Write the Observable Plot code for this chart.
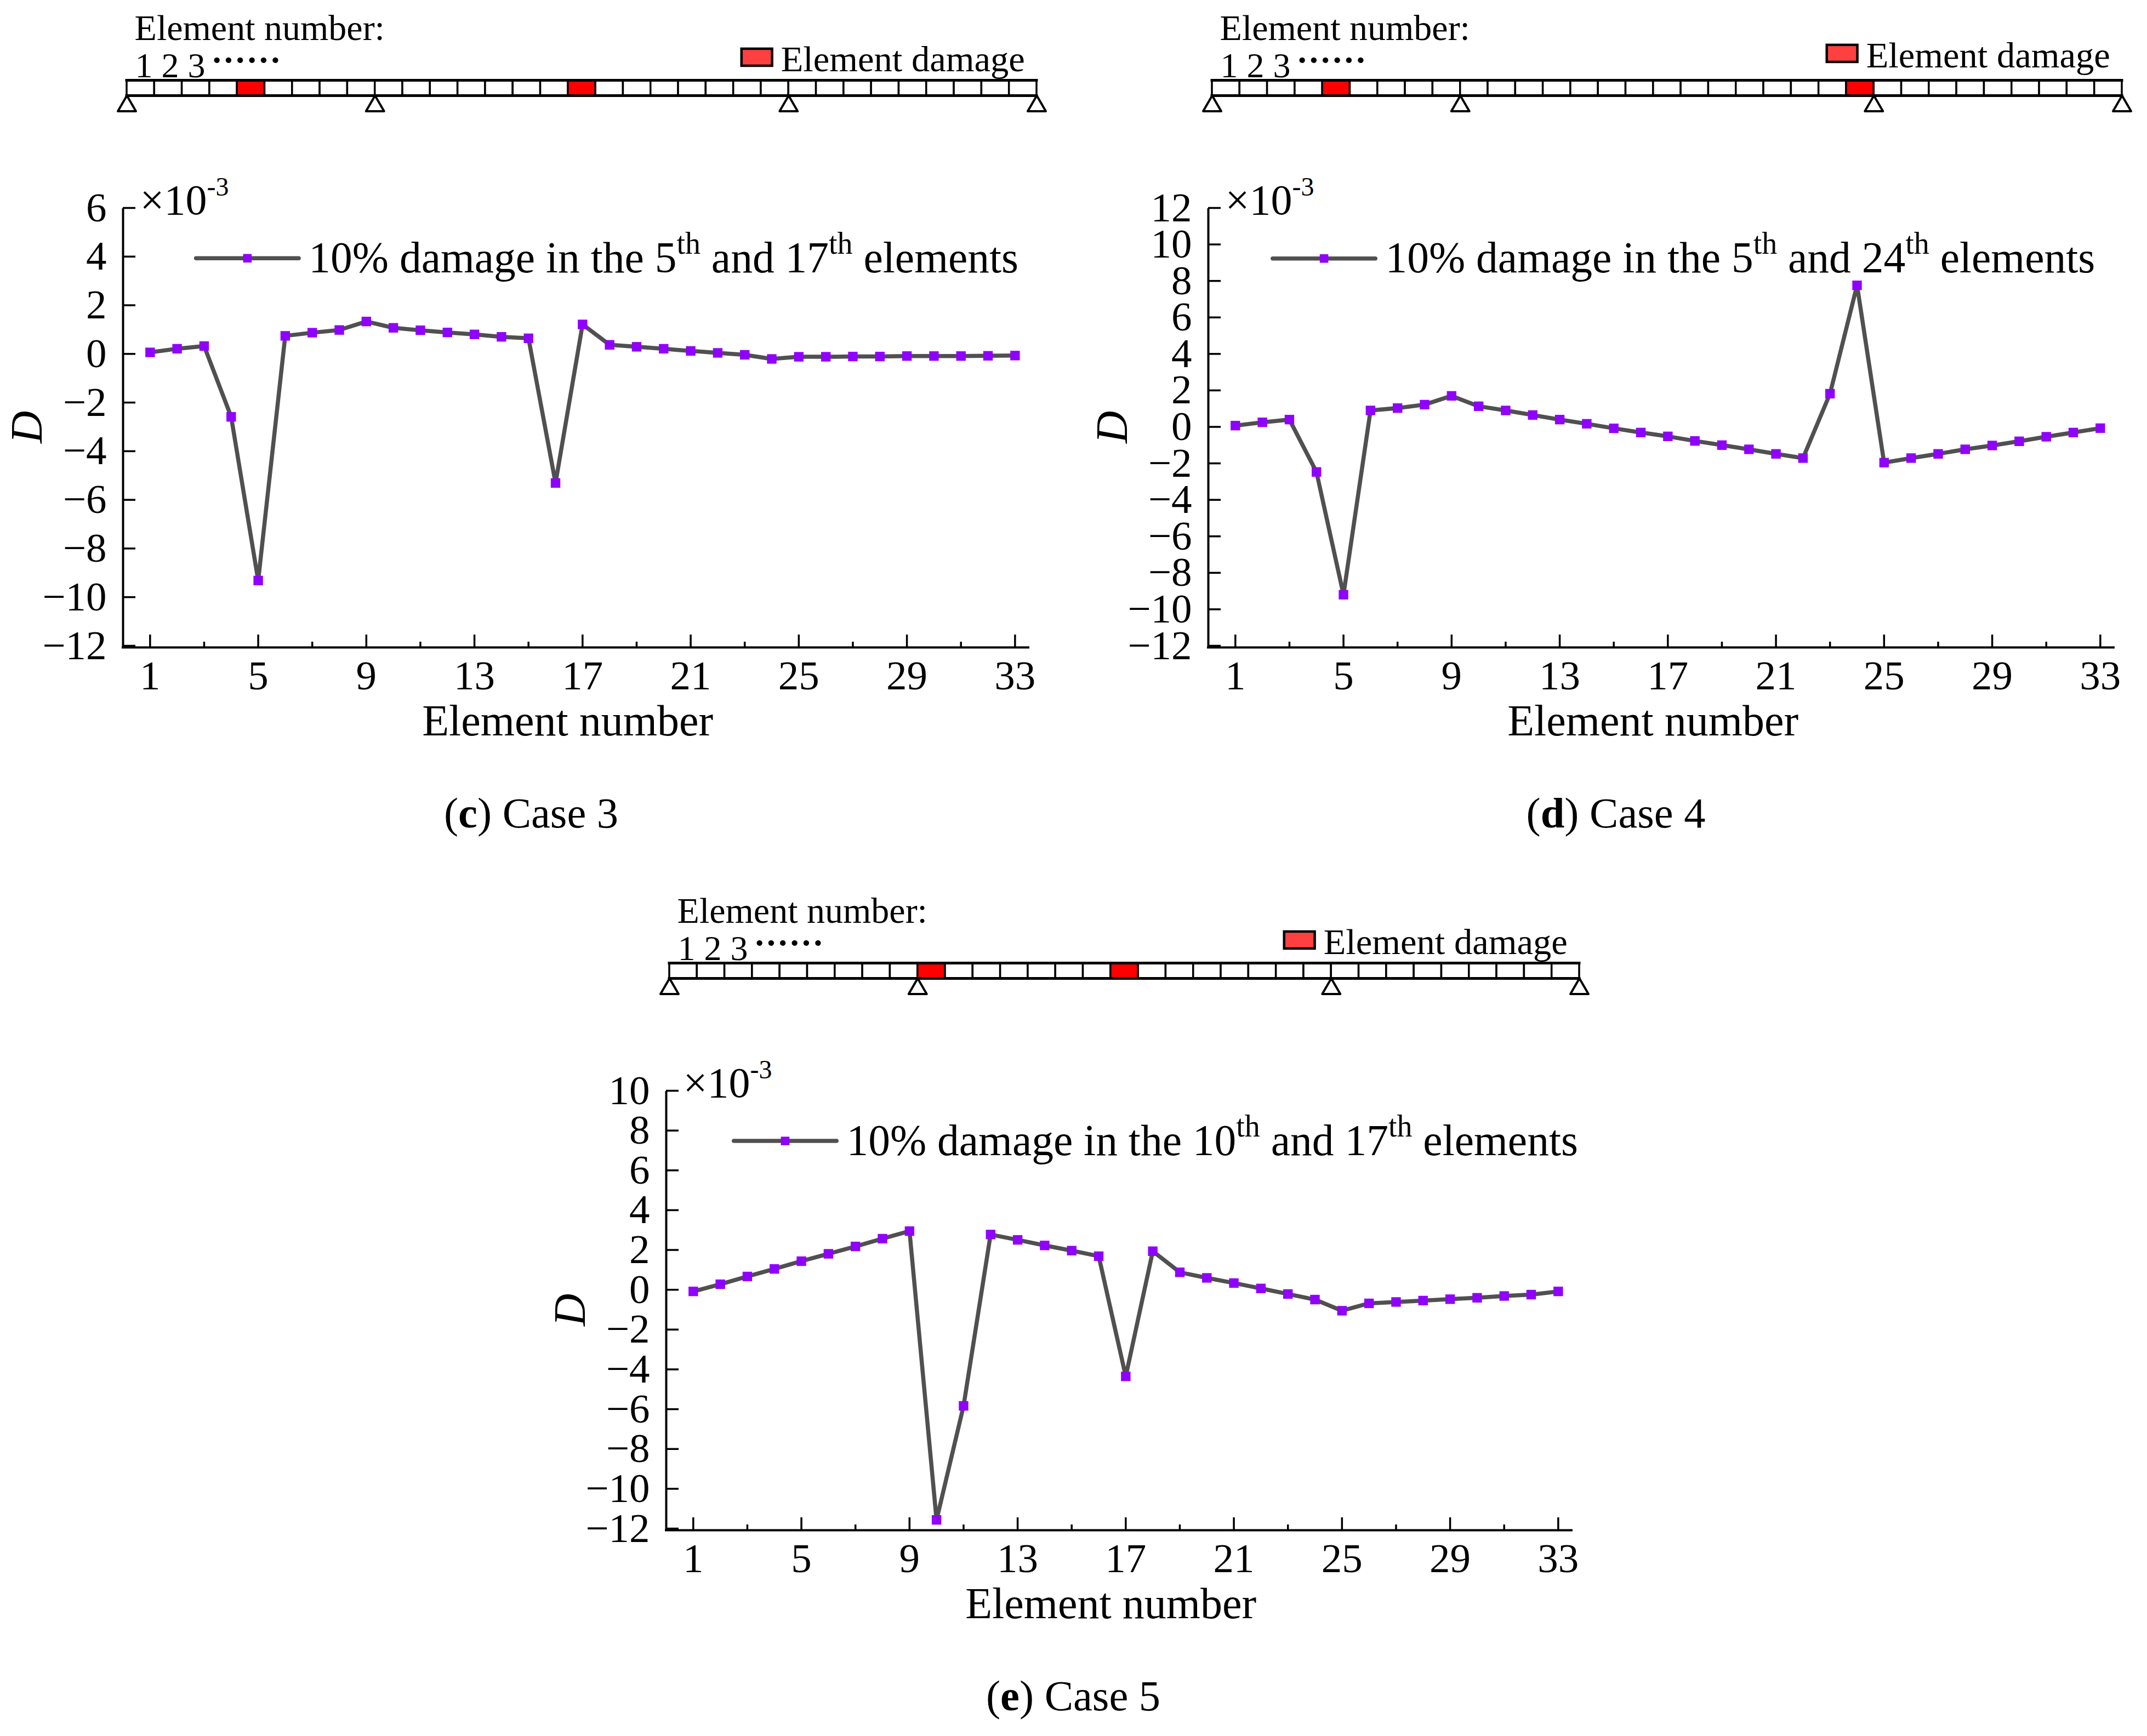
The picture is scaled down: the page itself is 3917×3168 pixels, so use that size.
<!DOCTYPE html>
<html>
<head>
<meta charset="utf-8">
<script src="https://cdn.jsdelivr.net/npm/d3@7"></script>
<script src="https://cdn.jsdelivr.net/npm/@observablehq/plot@0.6"></script>
<style>
html,body{margin:0;padding:0;background:#fff}
#page{position:relative;width:3917px;height:3168px;overflow:hidden;font-family:"Liberation Serif",serif;color:#000}
#page svg{position:absolute;overflow:visible;background:transparent}
.cap{position:absolute;font-size:78.5px;line-height:1;white-space:nowrap}
</style>
</head>
<body>
<div id="page"></div>
<script>
const elements = d3.range(1, 34);
const majorTicks = [1, 5, 9, 13, 17, 21, 25, 29, 33];
const minorTicks = [3, 7, 11, 15, 19, 23, 27, 31];
const supports = [0, 9, 24, 33];

const case3 = [0.13,0.28,0.39,-2.52,-9.25,0.81,0.94,1.05,1.40,1.14,1.04,0.95,0.87,0.77,0.71,-5.24,1.28,0.44,0.36,0.28,0.19,0.11,0.03,-0.14,-0.05,-0.05,-0.04,-0.04,-0.02,-0.02,-0.02,-0.01,0];
const case4 = [0.16,0.34,0.49,-2.38,-9.11,0.99,1.12,1.31,1.79,1.22,0.99,0.74,0.49,0.26,0.01,-0.22,-0.43,-0.68,-0.91,-1.14,-1.39,-1.62,1.91,7.85,-1.87,-1.62,-1.39,-1.14,-0.93,-0.70,-0.45,-0.22,0.02];
const case5 = [0,0.36,0.75,1.13,1.52,1.89,2.26,2.65,3.03,-11.48,-5.75,2.86,2.59,2.31,2.05,1.77,-4.27,2.02,0.96,0.68,0.42,0.15,-0.13,-0.41,-0.97,-0.60,-0.53,-0.46,-0.39,-0.32,-0.23,-0.16,0];

const yTicks3 = [6,4,2,0,-2,-4,-6,-8,-10,-12];
const yTicks4 = [12,10,8,6,4,2,0,-2,-4,-6,-8,-10,-12];
const yTicks5 = [10,8,6,4,2,0,-2,-4,-6,-8,-10,-12];

const legend3 = ["10% damage in the 5","th"," and 17","th"," elements"];
const legend4 = ["10% damage in the 5","th"," and 24","th"," elements"];
const legend5 = ["10% damage in the 10","th"," and 17","th"," elements"];

const damaged3 = [5, 17];
const damaged4 = [5, 24];
const damaged5 = [10, 17];

const page = document.getElementById("page");
const FONT = '"Liberation Serif", serif';
const LINE = "#505050", MARK = "#9000ff";

function richText(plot, full, parts, supSize, supRise) {
  const ns = "http://www.w3.org/2000/svg";
  const textEl = Array.from(plot.querySelectorAll("text")).find(t => t.textContent === full);
  if (!textEl) return;
  while (textEl.firstChild) textEl.removeChild(textEl.firstChild);
  let back = 0;
  parts.forEach((p, i) => {
    const t = document.createElementNS(ns, "tspan");
    t.textContent = p;
    t.style.whiteSpace = "pre";
    if (i % 2) { t.setAttribute("dy", -supRise); t.setAttribute("font-size", supSize); back = supRise; }
    else if (back) { t.setAttribute("dy", back); back = 0; }
    textEl.appendChild(t);
  });
  textEl.style.whiteSpace = "pre";
}

function chart({data, yDomain, yTicks, left, top, legend, lx, ly, lm, ltx, labelX}) {
  const axisLeft = 224, svgTop = 300, W = 1950, H = 1100;
  const plot = Plot.plot({
    width: W, height: H,
    marginLeft: axisLeft, marginRight: W - 1876,
    marginTop: 382 - svgTop, marginBottom: H - (1181 - svgTop),
    style: {fontFamily: FONT, fontSize: "75px", background: "transparent", overflow: "visible", color: "#000"},
    x: {domain: [0, 33.5], axis: null},
    y: {domain: yDomain, axis: null},
    marks: [
      Plot.axisX({ticks: majorTicks, tickSize: -23, tickPadding: 46, strokeWidth: 3.5, tickFormat: d => String(d), fontSize: 75, label: null}),
      Plot.axisX({ticks: minorTicks, tickSize: -10, strokeWidth: 3.5, tickFormat: () => "", label: null}),
      Plot.axisY({ticks: yTicks, tickSize: -23, tickPadding: 53, strokeWidth: 3.5, dy: -3, tickFormat: d => d < 0 ? "\u2212" + (-d) : String(d), fontSize: 75, label: null}),
      Plot.ruleX([0], {stroke: "#000", strokeWidth: 4, strokeLinecap: "square"}),
      Plot.ruleY([yDomain[0]], {stroke: "#000", strokeWidth: 4, strokeLinecap: "square"}),
      Plot.line(elements, {x: d => d, y: (d, i) => data[i], stroke: LINE, strokeWidth: 7.5, strokeLinejoin: "miter"}),
      Plot.dot(elements, {x: d => d, y: (d, i) => data[i], symbol: "square", r: 9.8, fill: MARK, stroke: "none"}),
      Plot.line(lx, {x: d => d, y: () => ly, stroke: LINE, strokeWidth: 7.5, strokeLinecap: "round"}),
      Plot.dot([lm], {x: d => d, y: () => ly, symbol: "square", r: 8.8, fill: MARK, stroke: "none"}),
      Plot.text([legend.join("")], {x: () => ltx, y: () => ly, textAnchor: "start", fontSize: 79.5, fill: "#000"}),
      Plot.text(["\u00d710-3"], {frameAnchor: "top-left", dx: 31, dy: -47, textAnchor: "start", lineAnchor: "top", fontSize: 78, fill: "#000"}),
      Plot.text(["D"], {frameAnchor: "left", dx: -175, dy: 27, rotate: -90, fontStyle: "italic", fontSize: 82, fill: "#000"}),
      Plot.text(["Element number"], {x: () => labelX, frameAnchor: "bottom", dy: 160, fontSize: 80, fill: "#000"})
    ]
  });
  plot.style.left = left + "px";
  plot.style.top = (top + svgTop) + "px";
  page.appendChild(plot);
  richText(plot, legend.join(""), legend, 56, 34);
  richText(plot, "\u00d710-3", ["\u00d710", "-3"], 48, 34);
  return plot;
}

function beam({damaged, left, top, legendShift}) {
  const ml = 100, mt = 146, W = 1660 + ml + 60, H = 146 + 28 + 70;
  const plot = Plot.plot({
    width: W, height: H,
    marginLeft: ml, marginRight: 60, marginTop: mt, marginBottom: 70,
    style: {fontFamily: FONT, fontSize: "66px", background: "transparent", overflow: "visible", color: "#000"},
    x: {domain: [0, 33], axis: null},
    y: {domain: [0, 1], axis: null},
    marks: [
      Plot.rect(elements, {x1: d => d - 1, x2: d => d, y1: () => 0, y2: () => 1, fill: d => damaged.includes(d) ? "#ff0000" : "#ffffff", stroke: "#000", strokeWidth: 3.5, inset: 0}),
      Plot.ruleY([0, 1], {stroke: "#000", strokeWidth: 5, strokeLinecap: "square"}),
      Plot.dot(supports, {x: d => d, y: () => 0, dy: 19, symbol: "triangle", r: 12.25, fill: "#fff", stroke: "#000", strokeWidth: 4, strokeLinejoin: "round"}),
      Plot.rect([22.3], {x1: d => d, x2: d => d + 1.11, y1: () => 1.93 + legendShift, y2: () => 3.04 + legendShift, fill: "#ff4040", stroke: "#000", strokeWidth: 4.5}),
      Plot.text(["Element damage"], {x: () => 23.72, y: () => 2.36 + legendShift, textAnchor: "start", fontSize: 66.5, fill: "#000"}),
      Plot.text(["Element number:"], {x: () => 0.28, y: () => 4.39, textAnchor: "start", fontSize: 66, fill: "#000"}),
      Plot.text(["1 2 3"], {x: () => 0.3, y: () => 1.93, textAnchor: "start", fontSize: 64, wordSpacing: "6px", fill: "#000"}),
      Plot.text(["\u00b7\u00b7\u00b7\u00b7\u00b7\u00b7"], {x: () => 3.05, y: () => 2.3, textAnchor: "start", fontSize: 64, fontWeight: "bold", letterSpacing: "8.5px", fill: "#000"})
    ]
  });
  plot.style.left = (left - ml) + "px";
  plot.style.top = top + "px";
  page.appendChild(plot);
}

function caption(html, cx, baseline) {
  const d = document.createElement("div");
  d.className = "cap";
  d.innerHTML = html;
  d.style.left = cx + "px";
  d.style.top = (baseline - 64) + "px";
  d.style.transform = "translateX(-50%)";
  page.appendChild(d);
}

beam({damaged: damaged3, left: 231, top: 0, legendShift: 0});
beam({damaged: damaged4, left: 2211, top: 0, legendShift: 0.25});
beam({damaged: damaged5, left: 1221, top: 1611, legendShift: 0});

chart({data: case3, yDomain: [-12, 6], yTicks: yTicks3, left: 0, top: 0, legend: legend3,
  lx: [2.7, 6.5], ly: 4, lm: 4.6, ltx: 6.87, labelX: 16.45});
chart({data: case4, yDomain: [-12, 12], yTicks: yTicks4, left: 1980, top: 0, legend: legend4,
  lx: [2.38, 6.18], ly: 9.32, lm: 4.28, ltx: 6.55, labelX: 16.45});
chart({data: case5, yDomain: [-12, 10], yTicks: yTicks5, left: 991, top: 1611, legend: legend5,
  lx: [2.5, 6.3], ly: 7.56, lm: 4.4, ltx: 6.67, labelX: 16.45});

caption("(<b>c</b>) Case 3", 969, 1509);
caption("(<b>d</b>) Case 4", 2948, 1509);
caption("(<b>e</b>) Case 5", 1958, 3120);
</script>
</body>
</html>
